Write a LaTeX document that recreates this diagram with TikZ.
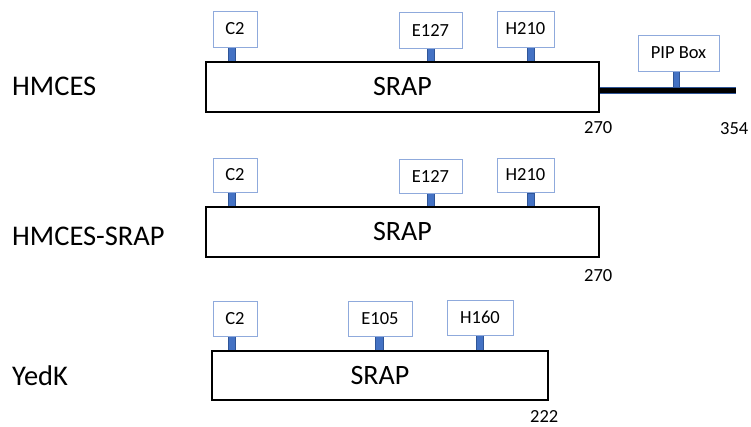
\documentclass[tikz,border=0pt]{standalone}
\usepackage{fontspec}
\setmainfont{Carlito}
\definecolor{lblue}{HTML}{8FAADC}
\definecolor{sblue}{HTML}{4472C4}
\definecolor{dblue}{HTML}{2F5597}
\begin{document}
\begin{tikzpicture}[x=1pt,y=-1pt,
  srapbox/.style={draw=black,line width=1.2pt,fill=white,inner sep=0pt,font=\fontsize{28}{30}\selectfont},
  sitebox/.style={draw=lblue,line width=0.9pt,fill=white,inner sep=0pt,minimum height=36pt,font=\fontsize{18.5}{20}\selectfont},
  stalkfill/.style={fill=sblue,draw=dblue,line width=0.5pt},
  protlabel/.style={anchor=base west,inner sep=0pt,font=\fontsize{28.5}{30}\selectfont},
  numlabel/.style={anchor=base west,inner sep=0pt,font=\fontsize{18.5}{20}\selectfont}]
\useasboundingbox (0,0) rectangle (751,426);

% ---------- HMCES ----------
\node[protlabel] (n1) at (12,95) {HMCES};
\fill[stalkfill] (228,47) rectangle (235,62.5);
\fill[stalkfill] (427,48) rectangle (434,62.5);
\fill[stalkfill] (527,47) rectangle (534,62.5);
\fill[stalkfill] (673,71) rectangle (679,88);
\coordinate (t1) at (736,90.5);
\node[srapbox,minimum width=393pt,minimum height=50pt] (d1) at (402.5,87) {SRAP};
\draw[dblue,line width=7pt] (d1.east |- t1) -- (t1);
\draw[black,line width=4.6pt] (d1.east |- t1) -- (t1);
\node[sitebox,minimum width=44pt] (a1) at (235,29) {C2};
\node[sitebox,minimum width=63pt] (b1) at (430.5,30) {E127};
\node[sitebox,minimum width=57pt] (c1) at (525.5,29) {H210};
\node[sitebox,minimum width=81pt] (p1) at (678.5,53) {PIP Box};
\node[numlabel] (l1) at (584,133) {270};
\node[numlabel] (r1) at (720,134) {354};

% ---------- HMCES-SRAP ----------
\node[protlabel] (n2) at (12,245) {HMCES-SRAP};
\fill[stalkfill] (228,192) rectangle (235,207.5);
\fill[stalkfill] (427,193) rectangle (434,207.5);
\fill[stalkfill] (527,193) rectangle (534,209);
\node[srapbox,minimum width=393pt,minimum height=50pt] (d2) at (402.5,232) {SRAP};
\node[sitebox,minimum width=44pt,minimum height=34pt] (a2) at (235,175) {C2};
\node[sitebox,minimum width=63pt,minimum height=34pt] (b2) at (430.5,176) {E127};
\node[sitebox,minimum width=57pt,minimum height=34pt] (c2) at (525.5,175) {H210};
\node[numlabel] (l2) at (584,281) {270};

% ---------- YedK ----------
\node[protlabel] (n3) at (12,385) {YedK};
\fill[stalkfill] (228,336) rectangle (235,351.5);
\fill[stalkfill] (375,336) rectangle (383,351.5);
\fill[stalkfill] (476,335) rectangle (483,351.5);
\node[srapbox,minimum width=336pt,minimum height=49pt] (d3) at (380,375.5) {SRAP};
\node[sitebox,minimum width=44pt,minimum height=35pt] (a3) at (235,318.5) {C2};
\node[sitebox,minimum width=64pt,minimum height=35pt] (b3) at (380,318.5) {E105};
\node[sitebox,minimum width=66pt,minimum height=35pt] (c3) at (480,317.5) {H160};
\node[numlabel] (l3) at (530,422) {222};
\end{tikzpicture}
\end{document}
